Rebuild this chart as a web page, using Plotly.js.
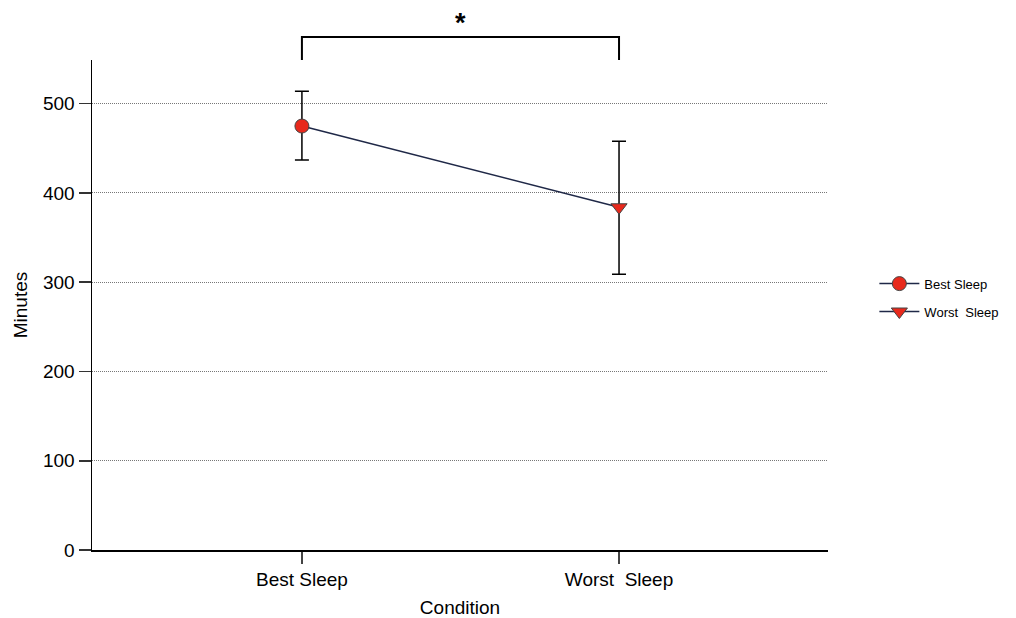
<!DOCTYPE html>
<html>
<head>
<meta charset="utf-8">
<script src="https://cdn.plot.ly/plotly-3.0.1.min.js"></script>
<style>html,body{margin:0;padding:0;background:#fff;}#chart{width:1016px;height:618px;}</style>
</head>
<body>
<div id="chart"></div>
<script>
const categories = ['Best Sleep', 'Worst\u00a0 Sleep'];
const seriesNames = ['Best Sleep', 'Worst\u00a0 Sleep'];
const meanMinutes = [475, 384];
const errPlus = [39, 74];
const errMinus = [38, 75];
const yTickVals = [0, 100, 200, 300, 400, 500];
const symbols = ['circle', 'triangle-down'];
const sigLabel = '*';

const navy = '#1f2847';
const red = '#e8291c';
const font = 'Liberation Sans, Arial, sans-serif';

const traces = [{
  x: categories, y: meanMinutes, type: 'scatter', mode: 'lines',
  line: {color: navy, width: 1.5}, showlegend: false, hoverinfo: 'skip'
}];
for (let i = 0; i < categories.length; i++) {
  traces.push({
    x: [categories[i]], y: [meanMinutes[i]], type: 'scatter', mode: 'lines+markers',
    name: seriesNames[i], legendgroup: 'g' + i,
    line: {color: navy, width: 1.5},
    marker: {symbol: symbols[i], size: 14, color: red, line: {color: '#444', width: 1}},
    error_y: {type: 'data', symmetric: false, array: [errPlus[i]], arrayminus: [errMinus[i]],
      color: '#000', thickness: 1.5, width: 7}
  });
}

const layout = {
  width: 1016, height: 618,
  margin: {l: 92, r: 188, t: 60, b: 68, autoexpand: false},
  paper_bgcolor: '#fff', plot_bgcolor: '#fff',
  font: {family: font, size: 19, color: '#000'},
  xaxis: {
    type: 'category', categoryorder: 'array', categoryarray: categories,
    range: [-0.662, 1.659], showline: true, linecolor: '#000', linewidth: 1.5,
    ticks: 'outside', ticklen: 12, tickcolor: '#444', tickwidth: 1.5,
    showgrid: false, zeroline: false,
    tickfont: {size: 19}, title: {text: 'Condition', font: {size: 19}, standoff: 11}
  },
  yaxis: {
    range: [0, 549], tickvals: yTickVals, showline: true, linecolor: '#000', linewidth: 1.5,
    ticks: 'outside', ticklen: 12, tickcolor: '#333', tickwidth: 1.5,
    showgrid: true, gridcolor: '#777', griddash: '1px,1px', gridwidth: 1, zeroline: false,
    tickfont: {size: 19}, title: {text: 'Minutes', font: {size: 19}, standoff: 10}
  },
  legend: {x: 1.063, y: 0.515, xanchor: 'left', yanchor: 'middle',
    font: {size: 13}, bgcolor: 'rgba(0,0,0,0)', tracegroupgap: 8, itemwidth: 40},
  shapes: [{
    type: 'path', xref: 'x', yref: 'paper',
    path: 'M 0,1.0 L 0,1.047 L 1,1.047 L 1,1.0',
    line: {color: '#000', width: 2}
  }],
  annotations: [{
    x: 0.5, xref: 'x', y: 1.076, yref: 'paper', text: '<b>' + sigLabel + '</b>',
    showarrow: false, font: {size: 27, color: '#000'}, yanchor: 'middle'
  }]
};

Plotly.newPlot('chart', traces, layout, {displayModeBar: false, staticPlot: true});
</script>
</body>
</html>
